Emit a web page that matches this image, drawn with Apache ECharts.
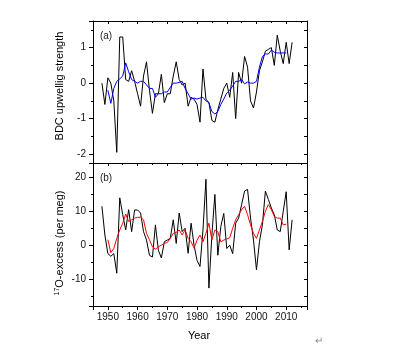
<!DOCTYPE html>
<html>
<head>
<meta charset="utf-8">
<script src="https://cdn.jsdelivr.net/npm/echarts@6.0.0/dist/echarts.min.js"></script>
<style>
  html, body { margin: 0; padding: 0; background: #fff; }
  #container1 { width: 401px; height: 351px; }
</style>
</head>
<body>
<div id="container1"></div>
<script>
// annual values, 1948-2012
var firstYear = 1948;
var bdcAnnual = [
  0.0, -0.6, 0.15, 0.0, -0.5, -1.95, 1.3, 1.3, 0.1, 0.05,
  0.35, 0.05, -0.3, -0.65, 0.2, 0.6, -0.2, -0.85, -0.3, -0.3,
  0.25, -0.55, -0.3, -0.3, 0.2, 0.6, 0.1, -0.05, 0.0, -0.65,
  -0.4, -0.45, -0.6, -1.1, 0.4, -0.45, -0.55, -1.05, -1.1, -0.75,
  -0.45, -0.15, 0.0, -0.4, 0.3, -1.0, 0.3, 0.0, 0.75, 0.45,
  -0.5, -0.7, -0.25, 0.35, 0.6, 0.9, 0.95, 1.0, 0.5, 1.35,
  0.9, 0.55, 1.15, 0.55, 1.15
];
var o17Annual = [
  11.5, 3.0, -2.5, -3.3, -2.5, -8.3, 14.0, 9.0, 4.5, 10.5,
  4.0, 10.4, 10.4, 9.5, 4.0, 1.5, -3.0, -3.5, 6.0, -1.5,
  -3.8, 1.0, 1.5, 2.0, 7.5, 0.5, 9.5, 4.0, 5.0, -2.4,
  6.5, 0.0, -4.5, -6.3, 4.5, 19.5, -12.7, 3.0, 15.0, -3.0,
  5.5, 9.4, -1.0, 0.0, -2.5, 6.5, 8.0, 12.0, 16.0, 16.5,
  8.0, 1.5, -7.3, 1.0, 6.0, 16.0, 13.5, 11.0, 9.0, 4.5,
  4.0, 10.0, 15.8, -1.4, 7.5
];
// smoothed values, 1950-2010
var smoothFirstYear = 1950;
var bdcSmooth = [
  -0.2, -0.57, -0.15, 0.05, 0.12, 0.2, 0.57, 0.32, 0.1, 0.05,
  0.0, 0.05, 0.05, -0.05, -0.15, -0.15, -0.4, -0.3, -0.3, -0.25,
  -0.25, -0.12, 0.0, 0.0, 0.02, 0.05, -0.15, -0.3, -0.45, -0.42,
  -0.45, -0.42, -0.4, -0.5, -0.55, -0.8, -0.87, -0.8, -0.6, -0.45,
  -0.28, -0.2, -0.08, 0.05, 0.05, 0.1, -0.02, 0.03, 0.0, 0.0,
  0.05, 0.45, 0.75, 0.82, 0.82, 0.93, 0.87, 0.85, 0.85, 0.85,
  0.85
];
var o17Smooth = [
  1.6, -2.2, -1.0, 2.0, 4.5, 6.5, 9.2, 7.0, 7.5, 8.0,
  8.2, 8.3, 7.5, 3.5, 1.6, -0.5, -1.2, -0.5, 0.0, 0.5,
  0.8, 2.0, 3.5, 3.8, 4.5, 3.0, 4.5, 2.0, 1.0, -0.9,
  1.5, 3.0, 1.0, 3.5, 6.5, 1.5, 4.5, 4.0, 1.0, 1.5,
  1.8, 2.2, 5.0, 7.5, 9.0, 10.5, 11.5, 9.0, 6.0, 3.5,
  2.0, 4.5, 7.0, 10.0, 12.0, 10.5, 8.5, 8.0, 8.0, 6.0,
  6.2
];
var yearRange = [1945, 2017];
var bdcRange = [-2.25, 1.75];
var o17Range = [-18, 24.3];

function pairs(start, vals) {
  return vals.map(function (v, i) { return [start + i, v]; });
}

var font = "'Liberation Sans', Arial, sans-serif";
var black = '#000';

function plain(v) { return String(v); }

function xAx(grid, pos, opts) {
  return {
    type: 'value', gridIndex: grid, position: pos,
    min: yearRange[0], max: yearRange[1], splitNumber: 5,
    axisLine: { show: true, onZero: false, lineStyle: { color: black, width: 1 } },
    axisTick: { show: opts.tick !== false, inside: !!opts.inside, length: opts.len || 3, lineStyle: { color: black } },
    minorTick: { show: opts.tick !== false, splitNumber: 2, length: opts.minor || 2, lineStyle: { color: black } },
    axisLabel: {
      show: !!opts.label, margin: 6, color: '#111', fontSize: 10, fontFamily: font,
      showMinLabel: false, showMaxLabel: false, formatter: plain
    },
    splitLine: { show: false }
  };
}

function yAx(grid, pos, range, opts) {
  return {
    type: 'value', gridIndex: grid, position: pos,
    min: range[0], max: range[1], splitNumber: 4,
    axisLine: { show: true, onZero: false, lineStyle: { color: black, width: 1 } },
    axisTick: { show: true, inside: !!opts.inside, length: opts.len || 3, lineStyle: { color: black } },
    minorTick: { show: true, splitNumber: 2, length: opts.minor || 2, lineStyle: { color: black } },
    axisLabel: {
      show: !!opts.label, margin: 7, color: '#111', fontSize: 10, fontFamily: font,
      showMinLabel: false, showMaxLabel: false, formatter: plain
    },
    splitLine: { show: false }
  };
}

var dom = document.getElementById("container1");
var myChart = echarts.init(dom, null, { renderer: 'canvas' });
var option = {
  animation: false,
  backgroundColor: '#fff',
  grid: [
    { left: 93, top: 21, width: 214, height: 142 },
    { left: 93, top: 163, width: 214, height: 143 }
  ],
  xAxis: [
    xAx(0, 'bottom', { len: 3, minor: 2 }),
    xAx(0, 'top', { inside: true, len: 3, minor: 2 }),
    xAx(1, 'bottom', { label: true, len: 4, minor: 2 }),
    xAx(1, 'top', { tick: false })
  ],
  yAxis: [
    yAx(0, 'left', bdcRange, { label: true, len: 4, minor: 2 }),
    yAx(0, 'right', bdcRange, { inside: true, len: 3, minor: 3 }),
    yAx(1, 'left', o17Range, { label: true, len: 4, minor: 2 }),
    yAx(1, 'right', o17Range, { inside: true, len: 3, minor: 3 })
  ],
  series: [
    {
      type: 'line', xAxisIndex: 0, yAxisIndex: 0, data: pairs(firstYear, bdcAnnual),
      symbol: 'none', lineStyle: { color: black, width: 1 }, z: 2
    },
    {
      type: 'line', xAxisIndex: 0, yAxisIndex: 0, data: pairs(smoothFirstYear, bdcSmooth),
      symbol: 'none', lineStyle: { color: '#0000ff', width: 1 }, z: 3
    },
    {
      type: 'line', xAxisIndex: 2, yAxisIndex: 2, data: pairs(firstYear, o17Annual),
      symbol: 'none', lineStyle: { color: black, width: 1 }, z: 2
    },
    {
      type: 'line', xAxisIndex: 2, yAxisIndex: 2, data: pairs(smoothFirstYear, o17Smooth),
      symbol: 'none', lineStyle: { color: '#ff0000', width: 1 }, z: 3
    }
  ],
  graphic: [
    {
      type: 'text', x: 60, y: 86, rotation: Math.PI / 2,
      style: { text: 'BDC upwellig strength', font: '11px ' + font, fill: black, align: 'center', verticalAlign: 'middle' }
    },
    {
      type: 'text', x: 60, y: 243, rotation: Math.PI / 2,
      style: {
        text: '{s|17}O-excess (per meg)', font: '11px ' + font, fill: black, align: 'center', verticalAlign: 'middle',
        rich: { s: { fontSize: 7, fontFamily: font, verticalAlign: 'top', padding: [0, 0, 5, 0] } }
      }
    },
    {
      type: 'text', x: 106, y: 36,
      style: { text: '(a)', font: '10px ' + font, fill: '#222', align: 'center', verticalAlign: 'middle' }
    },
    {
      type: 'text', x: 106, y: 178,
      style: { text: '(b)', font: '10px ' + font, fill: '#222', align: 'center', verticalAlign: 'middle' }
    },
    {
      type: 'text', x: 199, y: 336,
      style: { text: 'Year', font: '11px ' + font, fill: black, align: 'center', verticalAlign: 'middle' }
    },
    {
      type: 'text', x: 319, y: 341,
      style: { text: '\u21B5', font: '10px ' + font, fill: '#888', align: 'center', verticalAlign: 'middle' }
    }
  ]
};
if (option && typeof option === "object") {
  myChart.setOption(option, true);
}
window.addEventListener("resize", () => {
  myChart.resize();
});
</script>
</body>
</html>
